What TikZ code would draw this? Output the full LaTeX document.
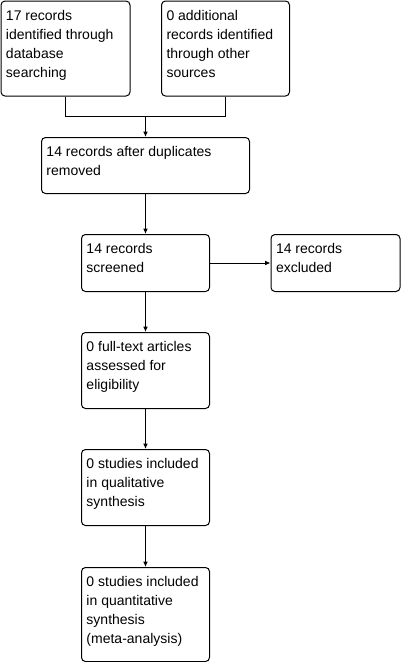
\documentclass[tikz,border=0pt]{standalone}
\usepackage{fontspec}
\setmainfont{Liberation Sans}
\usetikzlibrary{arrows.meta}
\newcommand{\bxt}[3]{\parbox[c][#2][t]{#1}{\raggedright\rule{0pt}{14.25pt}#3}}
\begin{document}
\begin{tikzpicture}[x=0.75pt,y=-0.75pt,
  box/.style={draw, line width=0.75pt, rounded corners=3pt, anchor=north west,
    inner xsep=3.75pt, inner ysep=0pt,
    font=\fontsize{10.5pt}{14.25pt}\selectfont},
  arr/.style={line width=0.75pt, -{Latex[length=4pt,width=3.5pt]}},
  ln/.style={line width=0.75pt}]
\useasboundingbox (0,0) rectangle (401,662);
\fill[white] (0,0) rectangle (401,662);
\node[box] (db) at (0.5,0.5)
  {\bxt{89.25pt}{71.25pt}{17 records\\identified through\\database\\searching}};
\node[box] (other) at (161,0.5)
  {\bxt{88.5pt}{71.25pt}{0 additional\\records identified\\through other\\sources}};
\node[box] (dup) at (41,137)
  {\bxt{148.5pt}{42pt}{14 records after duplicates\\removed}};
\node[box] (scr) at (81,234)
  {\bxt{88.5pt}{42.75pt}{14 records\\screened}};
\node[box] (exc) at (270.5,234)
  {\bxt{89.25pt}{42.75pt}{14 records\\excluded}};
\node[box] (full) at (81,332)
  {\bxt{88.5pt}{57pt}{0 full-text articles\\assessed for\\eligibility}};
\node[box] (qual) at (81,449)
  {\bxt{88.5pt}{57pt}{0 studies included\\in qualitative\\synthesis}};
\node[box] (quant) at (81,567)
  {\bxt{88.5pt}{70.5pt}{0 studies included\\in quantitative\\synthesis\\(meta-analysis)}};
\coordinate (j) at (145.5,116);
\draw[ln] (db.south) |- (j);
\draw[ln] (other.south) |- (j);
\draw[arr] (j) -- (dup.north -| j);
\draw[arr] (dup.south -| scr.north) -- (scr.north);
\draw[arr] (scr.east) -- (scr.east -| exc.west);
\draw[arr] (scr.south) -- (full.north);
\draw[arr] (full.south) -- (qual.north);
\draw[arr] (qual.south) -- (quant.north);
\end{tikzpicture}
\end{document}
